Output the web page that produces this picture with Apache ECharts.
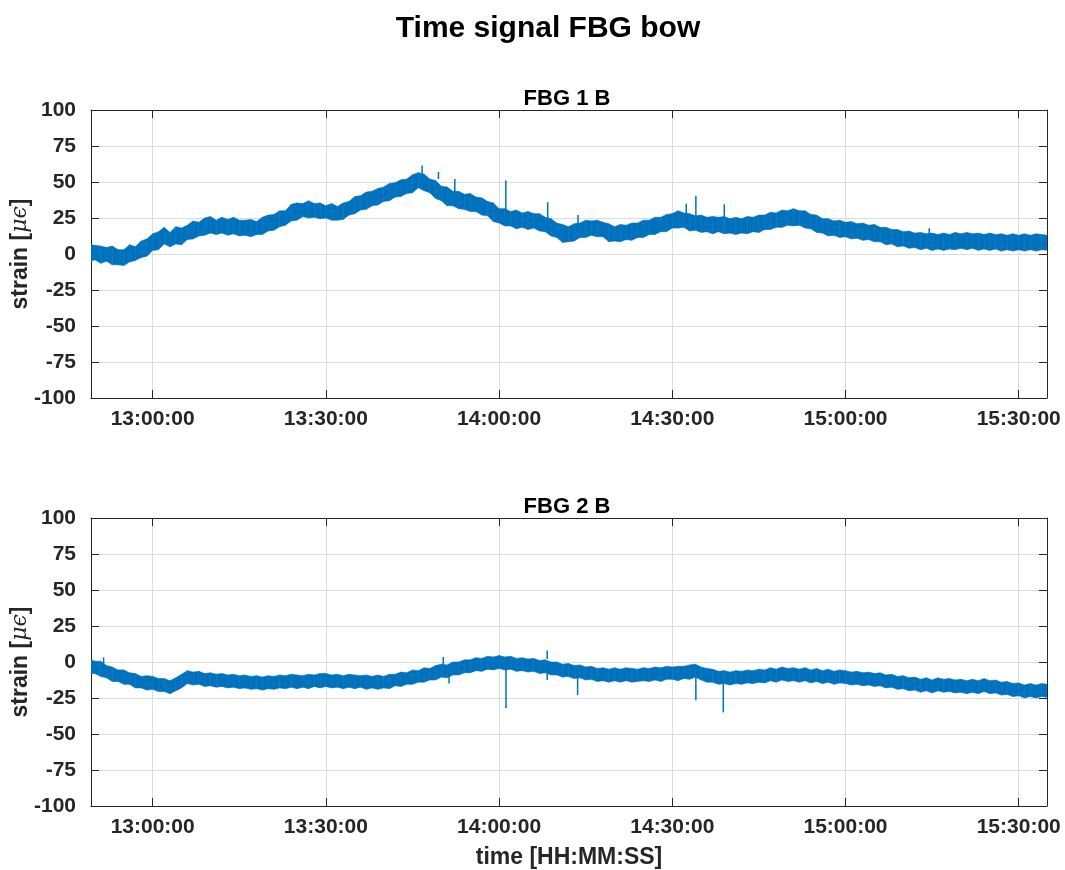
<!DOCTYPE html>
<html>
<head>
<meta charset="utf-8">
<title>Time signal FBG bow</title>
<script src="https://cdn.jsdelivr.net/npm/echarts@6/dist/echarts.min.js"></script>
<style>
  html, body { margin: 0; padding: 0; background: #ffffff; }
  #chart { width: 1065px; height: 870px; }
</style>
</head>
<body>
<div id="chart"></div>
<script>
// ---- data -----------------------------------------------------------------
// Both FBG channels are summarised per minute: lower and upper edge of the
// noisy strain trace (µε), first sample at sampleStart.
const sampleStart = '12:49:00';
const sampleStepSec = 60;
const viewStart = '12:49:19';
const viewEnd = '15:34:54';
const timeTicks = ['13:00:00', '13:30:00', '14:00:00', '14:30:00', '15:00:00', '15:30:00'];
const strainMin = -100;
const strainMax = 100;
const strainStep = 25;

const fbg1Upper = [
  6.5, 6, 5.5, 4.5, 5.5, 3, 3, 6.5, 5, 9, 10.5,
  14, 15.5, 18.5, 15, 19, 18, 20, 23, 22, 25,
  26, 23.5, 25.5, 24, 25.5, 23.5, 23.5, 24, 22.5, 25.5,
  27, 27.5, 30, 30, 34.5, 35.5, 35, 37, 35, 35.5,
  33.5, 35, 33, 35.5, 36.5, 40, 40.5, 43, 43.5, 45.5,
  46.5, 49, 49.5, 51.5, 52, 55, 56.5, 55.5, 52, 51,
  47, 46.5, 43.5, 43.5, 41.5, 42, 39.5, 39, 36.5, 35.5,
  31.5, 31.5, 29.5, 30.5, 28.5, 29.5, 28, 28, 25.5, 24.5,
  21.5, 20.5, 19, 21, 21.5, 23.5, 23, 23.5, 22, 21,
  19, 20.5, 20, 21.5, 21.5, 23.5, 23.5, 25.5, 25.5, 27.5,
  28, 30, 28.5, 28, 26.5, 27, 25.5, 26, 25.5, 26,
  24.5, 25.5, 24.5, 26, 25.5, 27, 27, 29, 28.5, 30.5,
  30, 31.5, 30, 30, 27.5, 27, 24.5, 24.5, 23, 23.5,
  22, 22.5, 21, 21.5, 20, 20.5, 18.5, 18.5, 17, 17,
  15.5, 16, 14.5, 15, 14, 14.5, 13.5, 14.5, 13.5, 15,
  14, 15, 14, 14.5, 13.5, 14.5, 13.5, 14, 13, 14,
  13, 14, 13, 14, 13.5, 13
];
const fbg1Lower = [
  -5.5, -4, -6.5, -5, -7.5, -7.5, -8, -5.5, -4.5, -2.5, -1.5,
  2.5, 3, 7, 5, 7, 6.5, 10, 10.5, 12.5, 13,
  14.5, 13.5, 14.5, 13, 14, 12.5, 13, 12, 13.5, 13.5,
  16, 16.5, 19, 20, 23, 23.5, 26, 25, 25.5, 24.5,
  25, 23.5, 23.5, 24, 27, 28, 30.5, 31, 33.5, 34,
  36.5, 37, 39.5, 40, 42, 42.5, 46, 44, 42.5, 38.5,
  37, 33.5, 33.5, 31.5, 31, 29.5, 29.5, 27, 26.5, 22.5,
  21.5, 19.5, 19.5, 17.5, 18.5, 17, 18, 16, 15.5, 12.5,
  11.5, 8, 8.5, 9, 11.5, 11.5, 13, 12, 12, 8.5,
  9, 8.5, 10, 9.5, 11.5, 11.5, 13.5, 13.5, 15.5, 15.5,
  18, 18, 18.5, 16, 16.5, 15, 15.5, 14, 15.5, 14,
  14.5, 13.5, 14.5, 14, 15.5, 15, 17, 17, 18.5, 18.5,
  20, 19.5, 20, 18, 17.5, 15, 14.5, 12.5, 13, 11.5,
  12, 10.5, 11, 9.5, 10, 8.5, 8.5, 6.5, 7, 5,
  5.5, 4, 4.5, 3, 4, 2.5, 3.5, 2.5, 3.5, 3,
  4, 3, 4, 2.5, 3.5, 2.5, 3.5, 2, 3, 2,
  3, 2, 3, 2, 3, 2.5
];
const fbg2Upper = [
  2, 0.5, 0.5, -2.5, -3.5, -5.5, -5.5, -7.5, -8, -10, -9.5,
  -10, -11.5, -11.5, -13, -11, -8.5, -6, -7, -6.5, -8,
  -7.5, -8.5, -8, -9, -8.5, -9.5, -9, -10, -9.5, -10.5,
  -9.5, -10, -9, -9.5, -8.5, -9, -9.5, -8.5, -9, -8,
  -8, -9, -8.5, -9.5, -8.5, -9, -9.5, -9, -10, -9,
  -10, -8.5, -8.5, -7, -7.5, -5.5, -6, -4, -4.5, -2.5,
  -1.5, -2, 0, 0, 1.5, 1.5, 3, 2.5, 4, 3.5,
  4.5, 3.5, 4, 2.5, 3, 2, 2.5, 1, 1.5, 0,
  0, -1.5, -1, -2.5, -2, -3.5, -3, -4.5, -4, -5,
  -4, -5, -4, -4.5, -5, -4, -4.5, -3.5, -4, -3,
  -3.5, -3, -3, -2, -1.5, -3.5, -4.5, -5, -6.5, -6,
  -7, -6, -6.5, -5.5, -6, -5, -5.5, -4, -5, -3.5,
  -4.5, -4, -5, -4, -5.5, -4.5, -6, -5, -6.5, -5.5,
  -6, -7, -6.5, -7.5, -7, -8, -7.5, -9, -8.5, -10,
  -9.5, -11, -10.5, -12, -11, -12.5, -11, -12, -11.5, -12.5,
  -12, -13, -12, -13, -11.5, -13, -12.5, -14, -13.5, -15,
  -14.5, -16, -15, -16, -15, -15.5
];
const fbg2Lower = [
  -8, -8, -10, -11, -13.5, -13.5, -15.5, -15.5, -18, -18, -19.5,
  -19, -20.5, -20.5, -22, -20, -18, -15, -16, -15.5, -17,
  -16.5, -17.5, -17, -18, -17.5, -18.5, -18, -19, -18.5, -19.5,
  -18.5, -19, -18, -18.5, -17.5, -18.5, -17.5, -18.5, -17, -18,
  -17, -18, -17.5, -18.5, -17.5, -18.5, -17.5, -19, -18, -19,
  -18, -18.5, -16.5, -17, -15.5, -15.5, -14, -14, -12.5, -12.5,
  -10.5, -11, -9, -9, -7.5, -7.5, -6, -6.5, -5, -5.5,
  -4.5, -5.5, -5, -6.5, -6, -7, -6.5, -8, -7.5, -9,
  -9, -10.5, -10, -11.5, -11, -12.5, -12, -13.5, -13, -14,
  -13, -14, -13, -14, -13.5, -13, -13.5, -12.5, -13.5, -12,
  -12, -13, -11.5, -12, -10.5, -12.5, -14, -14, -15.5, -15,
  -16, -15, -15.5, -14.5, -15, -14, -14.5, -13, -14, -12.5,
  -13.5, -13, -14, -13, -14.5, -13.5, -15, -14, -15.5, -14.5,
  -15, -16, -15.5, -16.5, -16, -17, -16.5, -18, -17.5, -19,
  -18.5, -20, -19.5, -21, -20, -21.5, -20, -21, -20.5, -21.5,
  -21, -22, -21, -22, -20.5, -22, -21.5, -23, -22.5, -24,
  -23.5, -25, -24, -25, -24, -24.5
];

// isolated spikes: [time, start of spike (µε), tip of spike (µε)]
const fbg1Spikes = [
  ['13:46:40', 54, 61.5],
  ['13:49:30', 52, 57],
  ['13:52:20', 42, 52],
  ['14:01:10', 28, 51],
  ['14:08:25', 24, 36],
  ['14:13:40', 18, 27],
  ['14:32:25', 26, 35],
  ['14:34:05', 26, 40.5],
  ['14:39:00', 24, 34.5],
  ['15:14:30', 12, 17.8]
];
const fbg2Spikes = [
  ['12:51:30', -2, 3.2],
  ['13:50:20', -4, 3.5],
  ['13:51:20', -9, -15],
  ['14:01:12', -4, -32],
  ['14:08:20', 2, 7.9],
  ['14:08:20', -6, -12.5],
  ['14:13:36', -8, -23],
  ['14:34:05', -9, -26.5],
  ['14:38:50', -11, -35]
];

// ---- helpers --------------------------------------------------------------
const BLUE = '#0072BD';
const INK = '#262626';
const GRIDLINE = '#dcdcdc';
const FONT = '"Liberation Sans", Arial, Helvetica, sans-serif';

function toSec(s) {
  const p = s.split(':').map(Number);
  return p[0] * 3600 + p[1] * 60 + (p[2] || 0);
}
function pad(n) { return String(n).padStart(2, '0'); }
function hms(sec) {
  const s = Math.round(sec);
  return pad(Math.floor(s / 3600)) + ':' + pad(Math.floor((s % 3600) / 60)) + ':' + pad(s % 60);
}

const tickSecs = timeTicks.map(toSec);

// Filled envelope between the lower and upper edge, one quad per sample step.
function bandSeries(lower, upper, axisIdx) {
  const t0 = toSec(sampleStart);
  const n = Math.min(lower.length, upper.length);
  const items = [];
  for (let i = 0; i < n - 1; i++) {
    items.push([
      t0 + i * sampleStepSec, lower[i], upper[i],
      t0 + (i + 1) * sampleStepSec, lower[i + 1], upper[i + 1]
    ]);
  }
  return {
    type: 'custom', xAxisIndex: axisIdx, yAxisIndex: axisIdx,
    silent: true, animation: false, z: 3, clip: true,
    encode: { x: [0, 3], y: [1, 2, 4, 5] },
    data: items,
    renderItem: function (params, api) {
      const p = [
        api.coord([api.value(0), api.value(1)]),
        api.coord([api.value(0), api.value(2)]),
        api.coord([api.value(3), api.value(5)]),
        api.coord([api.value(3), api.value(4)])
      ];
      return {
        type: 'polygon',
        shape: { points: p },
        style: { fill: BLUE, stroke: BLUE, lineWidth: 0.6 }
      };
    }
  };
}

function spikeSeries(spikes, axisIdx) {
  return {
    type: 'custom', xAxisIndex: axisIdx, yAxisIndex: axisIdx,
    silent: true, animation: false, z: 4, clip: true,
    encode: { x: 0, y: [1, 2] },
    data: spikes.map(s => [toSec(s[0]), s[1], s[2]]),
    renderItem: function (params, api) {
      const a = api.coord([api.value(0), api.value(1)]);
      const b = api.coord([api.value(0), api.value(2)]);
      return {
        type: 'line',
        shape: { x1: a[0], y1: a[1], x2: b[0], y2: b[1] },
        style: { stroke: BLUE, lineWidth: 1.5 }
      };
    }
  };
}

const tickStyle = { inside: true, length: 8, lineStyle: { color: INK, width: 1 } };
const lineStyleAxis = { show: true, onZero: false, lineStyle: { color: INK, width: 1 } };
const labelStyle = { color: INK, fontSize: 21, fontWeight: 'bold', fontFamily: FONT };

function timeAxes(gridIdx, withName) {
  const main = {
    type: 'value', gridIndex: gridIdx, position: 'bottom',
    min: toSec(viewStart), max: toSec(viewEnd),
    axisLine: lineStyleAxis,
    axisTick: Object.assign({ customValues: tickSecs }, tickStyle),
    axisLabel: Object.assign({ customValues: tickSecs, margin: 11, formatter: v => hms(v) }, labelStyle),
    splitLine: { show: true, lineStyle: { color: GRIDLINE, width: 1 } }
  };
  if (withName) {
    Object.assign(main, {
      name: 'time [HH:MM:SS]', nameLocation: 'middle', nameGap: 40, nameMoveOverlap: false,
      nameTextStyle: { color: INK, fontSize: 23, fontWeight: 'bold', fontFamily: FONT }
    });
  }
  const mirror = {
    type: 'value', gridIndex: gridIdx, position: 'top',
    min: toSec(viewStart), max: toSec(viewEnd),
    axisLine: lineStyleAxis,
    axisTick: Object.assign({ customValues: tickSecs }, tickStyle),
    axisLabel: { show: false },
    splitLine: { show: false }
  };
  return [main, mirror];
}

function strainAxes(gridIdx) {
  const main = {
    type: 'value', gridIndex: gridIdx, position: 'left',
    min: strainMin, max: strainMax, interval: strainStep,
    axisLine: lineStyleAxis,
    axisTick: tickStyle,
    axisLabel: Object.assign({ margin: 15 }, labelStyle),
    splitLine: { show: true, lineStyle: { color: GRIDLINE, width: 1 } },
    name: 'strain [{m|μϵ}]', nameLocation: 'middle', nameGap: 59, nameRotate: 90,
    nameMoveOverlap: false,
    nameTextStyle: {
      color: INK, fontSize: 23, fontWeight: 'bold', fontFamily: FONT,
      rich: { m: { color: INK, fontSize: 22, fontStyle: 'italic', fontWeight: 'normal', fontFamily: '"DejaVu Serif", serif' } }
    }
  };
  const mirror = {
    type: 'value', gridIndex: gridIdx, position: 'right',
    min: strainMin, max: strainMax, interval: strainStep,
    axisLine: lineStyleAxis,
    axisTick: tickStyle,
    axisLabel: { show: false },
    splitLine: { show: false }
  };
  return [main, mirror];
}

const tA = timeAxes(0, false), tB = timeAxes(1, true);
const sA = strainAxes(0), sB = strainAxes(1);

const option = {
  backgroundColor: '#ffffff',
  animation: false,
  title: [
    { text: 'Time signal FBG bow', left: 543, textAlign: 'center', top: 9,
      textStyle: { color: '#000', fontSize: 30, fontWeight: 'bold', fontFamily: FONT } },
    { text: 'FBG 1 B', left: 562, textAlign: 'center', top: 83,
      textStyle: { color: '#000', fontSize: 22, fontWeight: 'bold', fontFamily: FONT } },
    { text: 'FBG 2 B', left: 562, textAlign: 'center', top: 491,
      textStyle: { color: '#000', fontSize: 22, fontWeight: 'bold', fontFamily: FONT } }
  ],
  grid: [
    { left: 91, top: 110, width: 956, height: 288, outerBoundsMode: 'none', containLabel: false },
    { left: 91, top: 518, width: 956, height: 288, outerBoundsMode: 'none', containLabel: false }
  ],
  // index order: 0 = top panel (bottom edge), 1 = lower panel (bottom edge),
  //              2 = top panel (top edge),    3 = lower panel (top edge)
  xAxis: [tA[0], tB[0], tA[1], tB[1]],
  yAxis: [sA[0], sB[0], sA[1], sB[1]],
  series: [
    bandSeries(fbg1Lower, fbg1Upper, 0),
    spikeSeries(fbg1Spikes, 0),
    bandSeries(fbg2Lower, fbg2Upper, 1),
    spikeSeries(fbg2Spikes, 1)
  ]
};

const chart = echarts.init(document.getElementById('chart'), null, { renderer: 'canvas' });
chart.setOption(option);
</script>
</body>
</html>
